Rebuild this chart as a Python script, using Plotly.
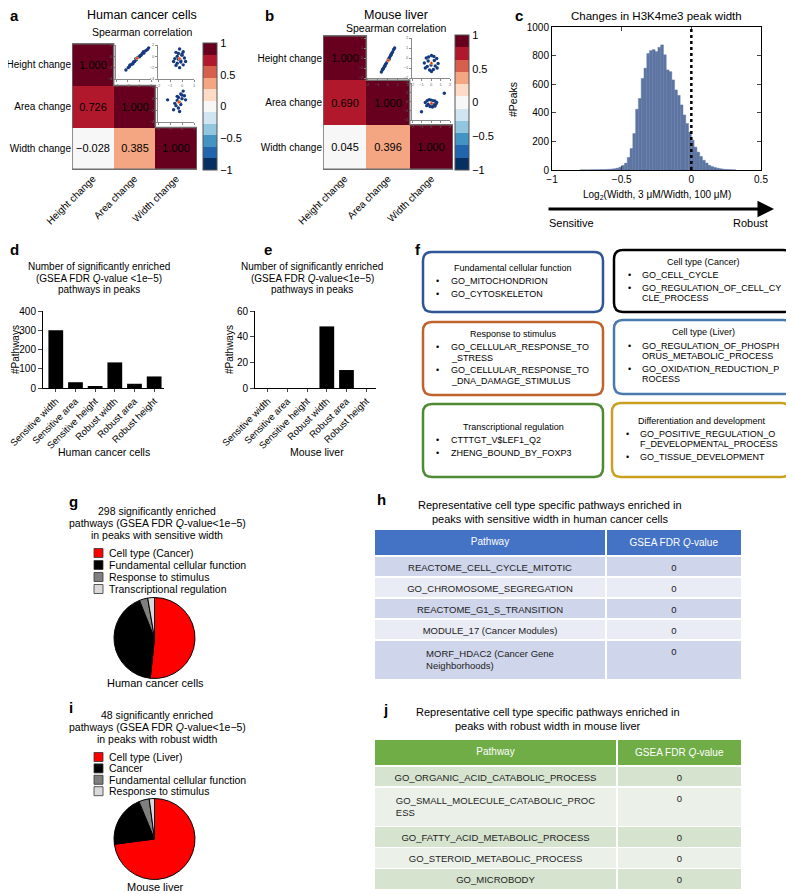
import plotly.graph_objects as go

# the page body keeps its 8px default margin, so the figure is drawn 8px smaller and
# every pixel position below is given in window coordinates of the 794x894 view
PAGE_PAD = 8
W, H = 794 - PAGE_PAD, 894 - PAGE_PAD
FONT = "Liberation Sans, Arial, sans-serif"

# ---- a / b : spearman correlation of peak changes
corr_labels = ["Height change", "Area change", "Width change"]
corr_human = [[1.000, None, None],
              [0.726, 1.000, None],
              [-0.028, 0.385, 1.000]]
corr_mouse = [[1.000, None, None],
              [0.690, 1.000, None],
              [0.045, 0.396, 1.000]]
rdbu11 = ["#053061", "#2166ac", "#4393c3", "#92c5de", "#d1e5f0", "#f7f7f7",
          "#fddbc7", "#f4a582", "#d6604d", "#b2182b", "#67001f"]

# small scatter insets in the upper triangle (rough clouds)
hum_ha_x = [-2.3, -1.9, -1.6, -1.3, -1.0, -0.8, -0.5, -0.3, 0.0, 0.3, 0.5, 0.8, 1.1, 1.4, 1.6, -1.1, -0.6, 0.1, 0.7, -1.7]
hum_ha_y = [-2.4, -2.0, -1.5, -1.4, -1.0, -0.9, -0.6, -0.2, -0.1, 0.2, 0.5, 0.6, 1.0, 1.2, 1.5, -1.3, -0.4, 0.1, 0.8, -1.8]
hum_hw_x = [-0.2, -0.5, 0.1, -0.4, 0.0, -0.3, -0.6, 0.2, -0.1, -0.4, 0.1, -0.2, -0.5, 0.0, -0.3, -0.1, 0.3, -0.7]
hum_hw_y = [1.3, 0.7, 0.8, 0.0, 0.2, -0.5, -0.4, -0.3, -1.0, -1.2, -1.5, -2.0, -1.6, 0.4, 0.5, -0.8, -0.9, -0.9]
hum_aw_x = [0.1, -0.1, 0.2, -0.3, 0.0, -0.4, -0.2, -0.6, -0.5, -0.1, 0.3, -0.3, -0.7, -0.2, 0.0, -0.4, -1.2]
hum_aw_y = [1.3, 0.8, 0.5, 0.2, 0.0, -0.3, -0.6, -0.8, -1.2, -1.0, -0.2, -1.6, -1.9, -2.2, 0.6, 0.4, -0.2]
mou_ha_x = [-0.6, -0.5, -0.4, -0.3, -0.2, -0.1, 0.0, 0.1, 0.2, 0.3, 0.4, 0.5, 0.6, 0.7, -0.25, 0.15, 0.35, -0.45]
mou_ha_y = [-1.4, -1.2, -1.05, -0.85, -0.65, -0.5, -0.3, -0.1, 0.05, 0.25, 0.45, 0.6, 0.85, 1.0, -0.8, -0.15, 0.3, -1.1]
mou_hw_x = [0.05, -0.5, 0.6, -0.3, 0.35, -0.7, 0.75, 0.0, -0.4, 0.45, -0.15, 0.25, -0.6, 0.65, 0.05, -0.25, 0.3]
mou_hw_y = [0.25, 0.0, -0.05, -0.3, -0.25, -0.5, -0.55, -0.7, -0.85, -0.8, -1.2, -1.15, -1.0, -1.0, -1.35, 0.1, 0.15]
mou_aw_x = [-0.6, -0.4, -0.2, 0.0, 0.2, 0.4, 0.6, -0.3, -0.05, 0.25, 0.5, -0.45, -0.1, 0.15, 0.4, 1.4, -1.0]
mou_aw_y = [-0.1, 0.1, 0.2, 0.15, 0.1, 0.05, -0.1, -0.3, -0.4, -0.35, -0.3, -0.45, -0.55, -0.6, -0.5, 0.9, -1.1]

# ---- c : histogram of log2 width change (bins of 0.02 starting at -0.80)
hist_first_center = -0.79
hist_bin = 0.02
hist_counts = [1, 1, 1, 1, 2, 2, 2, 3, 3, 4, 5, 7, 9, 13, 20, 32, 48, 88, 150, 255,
               425, 500, 640, 712, 815, 835, 842, 828, 858, 875, 806, 700, 688, 630,
               560, 522, 455, 385, 325, 265, 208, 160, 125, 95, 68, 49, 33, 24, 18,
               13, 9, 6, 4, 3, 2, 1]

# ---- d / e : number of enriched pathways
path_cats = ["Sensitive width", "Sensitive area", "Sensitive height",
             "Robust width", "Robust area", "Robust height"]
path_human = [300, 30, 8, 133, 22, 60]
path_mouse = [0, 0, 0, 48, 14, 0]

# ---- f : pathway groups
f_titles = ["Fundamental cellular function", "Cell type (Cancer)", "Response to stimulus",
            "Cell type (Liver)", "Transcriptional regulation", "Differentiation and development"]
f_items = [
    [["GO_MITOCHONDRION"], ["GO_CYTOSKELETON"]],
    [["GO_CELL_CYCLE"], ["GO_REGULATION_OF_CELL_CY", "CLE_PROCESS"]],
    [["GO_CELLULAR_RESPONSE_TO", "_STRESS"], ["GO_CELLULAR_RESPONSE_TO", "_DNA_DAMAGE_STIMULUS"]],
    [["GO_REGULATION_OF_PHOSPH", "ORUS_METABOLIC_PROCESS"], ["GO_OXIDATION_REDUCTION_P", "ROCESS"]],
    [["CTTTGT_V$LEF1_Q2"], ["ZHENG_BOUND_BY_FOXP3"]],
    [["GO_POSITIVE_REGULATION_O", "F_DEVELOPMENTAL_PROCESS"], ["GO_TISSUE_DEVELOPMENT"]],
]
f_colors = ["#2f5597", "#000000", "#c0622b", "#4a79b0", "#4e8a34", "#c9a020"]

# ---- g / i : pies
g_labels = ["Cell type (Cancer)", "Fundamental cellular function", "Response to stimulus", "Transcriptional regulation"]
g_values = [154, 126, 10, 8]
i_labels = ["Cell type (Liver)", "Cancer", "Fundamental cellular function", "Response to stimulus"]
i_values = [35, 10, 2, 1]
pie_colors = ["#ff0000", "#000000", "#7f7f7f", "#d9d9d9"]

# ---- h / j : tables
h_pathways = ["REACTOME_CELL_CYCLE_MITOTIC", "GO_CHROMOSOME_SEGREGATION", "REACTOME_G1_S_TRANSITION",
              "MODULE_17 (Cancer Modules)", "MORF_HDAC2 (Cancer Gene<br>Neighborhoods)"]
h_qvals = ["0", "0", "0", "0", "0"]
j_pathways = ["GO_ORGANIC_ACID_CATABOLIC_PROCESS", "GO_SMALL_MOLECULE_CATABOLIC_PROC<br>ESS",
              "GO_FATTY_ACID_METABOLIC_PROCESS", "GO_STEROID_METABOLIC_PROCESS", "GO_MICROBODY"]
j_qvals = ["0", "0", "0", "0", "0"]
table_header = ["Pathway", "GSEA FDR <i>Q</i>-value"]


def X(p):
    return (p - PAGE_PAD) / W


def Y(p):
    return 1 - (p - PAGE_PAD) / H


fig = go.Figure()
layout = {}
annotations = []
shapes = []


def txt(x, y, s, size=10, anchor="center", bold=False, angle=0, color="black"):
    annotations.append(dict(x=X(x), y=Y(y), xref="paper", yref="paper",
                            text="<b>%s</b>" % s if bold else s, showarrow=False,
                            xanchor=anchor, yanchor="middle", textangle=angle,
                            font=dict(size=size, color=color)))


# discrete colorscale
cs = []
for k, c in enumerate(rdbu11):
    cs.append([k / 11, c])
    cs.append([(k + 1) / 11, c])


def fmt(v):
    return "" if v is None else ("%.3f" % v).replace("-", "\u2212")


def corr_panel(z, n, box, cb_x):
    x0, x1, y0, y1 = box
    xa = "x" if n == 1 else "x%d" % n
    ya = "y" if n == 1 else "y%d" % n
    fig.add_trace(go.Heatmap(
        z=z, x=corr_labels, y=corr_labels, text=[[fmt(v) for v in r] for r in z],
        texttemplate="%{text}", textfont=dict(size=11, color="black"),
        colorscale=cs, zmin=-1, zmax=1, xaxis=xa, yaxis=ya, hoverongaps=False,
        colorbar=dict(x=X(cb_x), xanchor="left", y=Y(y1), yanchor="bottom",
                      len=y1 - y0, lenmode="pixels", thickness=14, thicknessmode="pixels",
                      outlinecolor="#555", outlinewidth=1, ticks="", xpad=0, ypad=0,
                      tickvals=[-1, -0.5, 0, 0.5, 1],
                      ticktext=["\u22121", "\u22120.5", "0", "0.5", "1"],
                      tickfont=dict(size=11))))
    key = "" if n == 1 else str(n)
    layout["xaxis" + key] = dict(domain=[X(x0), X(x1)], anchor=ya, tickangle=-45,
                                 showgrid=False, zeroline=False, ticks="", automargin=False,
                                 tickfont=dict(size=10), range=[-0.5, 2.5])
    layout["yaxis" + key] = dict(domain=[Y(y1), Y(y0)], anchor=xa, autorange="reversed",
                                 showgrid=False, zeroline=False, ticks="", automargin=False,
                                 tickfont=dict(size=10), ticklabelstandoff=0)
    # staircase frame around the lower triangle
    m = len(corr_labels)
    path = "M -0.5,-0.5"
    for k in range(m):
        path += " L %g,%g L %g,%g" % (k + 0.5, k - 0.5, k + 0.5, k + 0.5)
    path += " L -0.5,%g Z" % (m - 0.5)
    shapes.append(dict(type="path", path=path, xref=xa, yref=ya,
                       line=dict(color="#6f6f6f", width=1.5)))


corr_panel(corr_human, 1, (72, 197, 43, 170), 203)
corr_panel(corr_mouse, 2, (323, 453, 35, 170), 455)

insets = [
    (6, hum_ha_x, hum_ha_y, (116, 151, 45, 79), [-4, 2], [-4, 2], (-0.4, -0.35)),
    (7, hum_hw_x, hum_hw_y, (158, 194, 45, 79), [-2, 1], [-4, 2], (-0.2, -0.4)),
    (8, hum_aw_x, hum_aw_y, (158, 194, 87, 122), [-2, 1], [-4, 2], (-0.25, -0.6)),
    (9, mou_ha_x, mou_ha_y, (367, 408, 38, 78), [-2, 2], [-2, 2], (0.05, -0.25)),
    (10, mou_hw_x, mou_hw_y, (412, 450, 38, 78), [-2, 2], [-2, 2], (0.05, -0.5)),
    (11, mou_aw_x, mou_aw_y, (412, 450, 83, 120), [-2, 2], [-2, 2], (0.05, -0.2)),
]
for n, xs, ys, (x0, x1, y0, y1), xr, yr, ctr in insets:
    fig.add_trace(go.Scatter(x=xs, y=ys, mode="markers", xaxis="x%d" % n, yaxis="y%d" % n,
                             marker=dict(size=3.4, color="#163a7e", line=dict(width=0)),
                             showlegend=False, hoverinfo="skip"))
    fig.add_trace(go.Scatter(x=[ctr[0]], y=[ctr[1]], mode="markers", xaxis="x%d" % n, yaxis="y%d" % n,
                             marker=dict(size=3, color="#e8291c", line=dict(width=0.6, color="#f5e08a")),
                             showlegend=False, hoverinfo="skip"))
    ax = dict(showline=True, linecolor="#8a8a8a", linewidth=0.8, ticks="outside", ticklen=2,
              tickcolor="#8a8a8a", tickfont=dict(size=4, color="#666"), showgrid=False,
              zeroline=False, automargin=False, dtick=1 if xr[1] - xr[0] < 5 else 2)
    layout["xaxis%d" % n] = dict(ax, domain=[X(x0), X(x1)], anchor="y%d" % n, range=xr)
    layout["yaxis%d" % n] = dict(ax, domain=[Y(y1), Y(y0)], anchor="x%d" % n, range=yr,
                                 dtick=1 if yr[1] - yr[0] < 5 else 2)

txt(8, 16, "a", 15, "left", True)
txt(142, 15, "Human cancer cells", 12.5)
txt(142, 32, "Spearman correlation", 10.5)
txt(263, 16, "b", 15, "left", True)
txt(396, 15, "Mouse liver", 12.5)
txt(396, 28, "Spearman correlation", 10.5)

# ---- c histogram
fig.add_trace(go.Bar(y=hist_counts, x0=hist_first_center, dx=hist_bin, width=hist_bin,
                     marker=dict(color="#5d75a1", line=dict(width=0.4, color="#5d75a1")),
                     xaxis="x3", yaxis="y3", showlegend=False))
box_ax = dict(showline=True, mirror="allticks", linecolor="black", linewidth=1,
              ticks="inside", ticklen=4, showgrid=False, zeroline=False, automargin=False,
              tickfont=dict(size=10))
layout["xaxis3"] = dict(box_ax, domain=[X(552), X(761)], anchor="y3", range=[-1, 0.5],
                        tickvals=[-1, -0.5, 0, 0.5], ticktext=["\u22121", "\u22120.5", "0", "0.5"])
layout["yaxis3"] = dict(box_ax, domain=[Y(170), Y(27)], anchor="x3", range=[0, 1000], dtick=200)
shapes.append(dict(type="line", xref="x3", yref="y3", x0=0, x1=0, y0=0, y1=1000,
                   line=dict(color="black", width=2.5, dash="dot")))
txt(513, 16, "c", 15, "left", True)
txt(656, 16, "Changes in H3K4me3 peak width", 11.5)
txt(513, 100, "#Peaks", 10.5, angle=-90)
txt(657, 195, "Log<sub>2</sub>(Width, 3 \u03bcM/Width, 100 \u03bcM)", 10)
annotations.append(dict(x=X(774), y=Y(209), ax=-227, ay=0, xref="paper", yref="paper",
                        axref="pixel", ayref="pixel", text="", showarrow=True, arrowhead=2,
                        arrowwidth=3, arrowsize=1.1, arrowcolor="black"))
txt(547, 223, "Sensitive", 11, "left")
txt(770, 223, "Robust", 11, "right")


# ---- d / e bars
def bar_panel(vals, n, x0, x1, ymax, dtick):
    fig.add_trace(go.Bar(x=path_cats, y=vals, width=0.75, marker=dict(color="black", line=dict(width=0)),
                         xaxis="x%d" % n, yaxis="y%d" % n, showlegend=False))
    base = dict(showline=True, linecolor="black", linewidth=1, ticks="outside", ticklen=4,
                showgrid=False, zeroline=False, automargin=False, tickfont=dict(size=10))
    layout["xaxis%d" % n] = dict(base, domain=[X(x0), X(x1)], anchor="y%d" % n,
                                 range=[-0.65, 5.5], tickangle=-45, ticklen=3,
                                 tickfont=dict(size=9.5))
    layout["yaxis%d" % n] = dict(base, domain=[Y(388), Y(311)], anchor="x%d" % n,
                                 range=[0, ymax], dtick=dtick)


bar_panel(path_human, 4, 43, 164, 400, 100)
bar_panel(path_mouse, 5, 255, 376, 60, 20)
for (cx, lines) in [(99, ["Number of significantly enriched", "(GSEA FDR <i>Q</i>-value &lt;1e\u22125)", "pathways in peaks"]),
                    (312, ["Number of significantly enriched", "(GSEA FDR <i>Q</i>-value&lt;1e\u22125)", "pathways in peaks"])]:
    for k, s in enumerate(lines):
        txt(cx, 266 + 12 * k, s, 10)
txt(8, 249, "d", 15, "left", True)
txt(262, 249, "e", 15, "left", True)
txt(15, 350, "#Pathways", 10, angle=-90)
txt(229, 350, "#Pathways", 10, angle=-90)
txt(104, 452, "Human cancer cells", 10.5)
txt(317, 452, "Mouse liver", 10.5)


# ---- f boxes
def rrect(x0, y0, x1, y1, r=9):
    p = [(x0 + r, y0), (x1 - r, y0), (x1, y0), (x1, y0 + r), (x1, y1 - r), (x1, y1),
         (x1 - r, y1), (x0 + r, y1), (x0, y1), (x0, y1 - r), (x0, y0 + r), (x0, y0), (x0 + r, y0)]
    q = [(X(a), Y(b)) for a, b in p]
    s = "M %f,%f L %f,%f Q %f,%f %f,%f L %f,%f Q %f,%f %f,%f L %f,%f Q %f,%f %f,%f L %f,%f Q %f,%f %f,%f Z"
    flat = [v for pt in q for v in pt]
    return s % tuple(flat)


f_boxes = [(423, 252, 603, 312), (614, 250, 792, 312), (423, 322, 603, 395),
           (614, 320, 792, 394), (423, 404, 603, 477), (612, 403, 790, 477)]
txt(413, 249, "f", 15, "left", True)
for k, (x0, y0, x1, y1) in enumerate(f_boxes):
    shapes.append(dict(type="path", path=rrect(x0, y0, x1, y1), xref="paper", yref="paper",
                       line=dict(color=f_colors[k], width=2.5)))
    items = f_items[k]
    span = 13 + sum(10.5 * (len(b) - 1) for b in items) + 13 * (len(items) - 1)
    yy = (y0 + y1) / 2 - span / 2 - 1
    txt((x0 + x1) / 2, yy, f_titles[k], 9)
    yy += 13
    for b in items:
        txt(x0 + 15, yy, "\u2022", 9)
        for j, line in enumerate(b):
            txt(x0 + 26, yy, line, 9, "left")
            if j < len(b) - 1:
                yy += 10.5
        yy += 13


# ---- g / i pies with hand-placed legends
def pie_panel(labels, values, cy, title_y, title_lines, leg_y, leg_step, label, letter, letter_y, foot_y):
    fig.add_trace(go.Pie(labels=labels, values=values, sort=False, direction="clockwise", rotation=0,
                         marker=dict(colors=pie_colors, line=dict(color="black", width=1)),
                         textinfo="none", showlegend=False, hole=0,
                         domain=dict(x=[X(114), X(195)], y=[Y(cy + 40.5), Y(cy - 40.5)])))
    for k, s in enumerate(title_lines):
        txt(157, title_y + 11.8 * k, s, 10.5)
    for k, lab in enumerate(labels):
        yc = leg_y + leg_step * k
        shapes.append(dict(type="rect", xref="paper", yref="paper", x0=X(94), x1=X(103),
                           y0=Y(yc + 4.5), y1=Y(yc - 4.5), fillcolor=pie_colors[k],
                           line=dict(color="#333", width=0.8)))
        txt(107, yc, lab, 10.5, "left")
    txt(67, letter_y, letter, 15, "left", True)
    txt(155, foot_y, label, 11)


pie_panel(g_labels, g_values, 638, 511,
          ["298 significantly enriched", "pathways (GSEA FDR <i>Q</i>-value&lt;1e\u22125)", "in peaks with sensitive width"],
          553, 12, "Human cancer cells", "g", 501, 683)
pie_panel(i_labels, i_values, 839, 715,
          ["48 significantly enriched", "pathways (GSEA FDR <i>Q</i>-value&lt;1e\u22125)", "in peaks with robust width"],
          757, 11.4, "Mouse liver", "i", 707, 887)


# ---- h / j tables
def table_panel(paths, qvals, y_top, y_bot, widths, head_col, row_cols, letter, lx, ly, title, tx, ty):
    fill = [row_cols[k % 2] for k in range(len(paths))]
    fig.add_trace(go.Table(
        domain=dict(x=[X(374), X(742)], y=[Y(y_bot), Y(y_top)]),
        columnwidth=widths,
        header=dict(values=table_header, fill_color=head_col, align="center", height=19,
                    font=dict(color="white", size=10), line=dict(color="white", width=1.5)),
        cells=dict(values=[paths, qvals], fill_color=[fill, fill], align="center", height=21,
                   font=dict(color="#222", size=9.5), line=dict(color="white", width=1.5))))
    txt(lx, ly, letter, 15, "left", True)
    for k, s in enumerate(title):
        txt(tx, ty + 13.5 * k, s, 11)


table_panel(h_pathways, h_qvals, 529, 700, [232, 136], "#4472c4", ["#cfd5ea", "#e9ebf5"], "h", 375, 499,
            ["Representative cell type specific pathways enriched in",
             "peaks with sensitive width in human cancer cells"], 550, 505)
table_panel(j_pathways, j_qvals, 739, 894, [243, 125], "#70ad47", ["#d5e3cf", "#ebf1e9"], "j", 381, 709,
            ["Representative cell type specific pathways enriched in",
             "peaks with robust width in mouse liver"], 548, 712)

fig.update_layout(template="none", width=W, height=H, margin=dict(l=0, r=0, t=0, b=0, pad=0),
                  paper_bgcolor="white", plot_bgcolor="rgba(0,0,0,0)",
                  font=dict(family=FONT, size=10, color="black"),
                  showlegend=False, annotations=annotations, shapes=shapes, **layout)
fig.write_html("out.html")
